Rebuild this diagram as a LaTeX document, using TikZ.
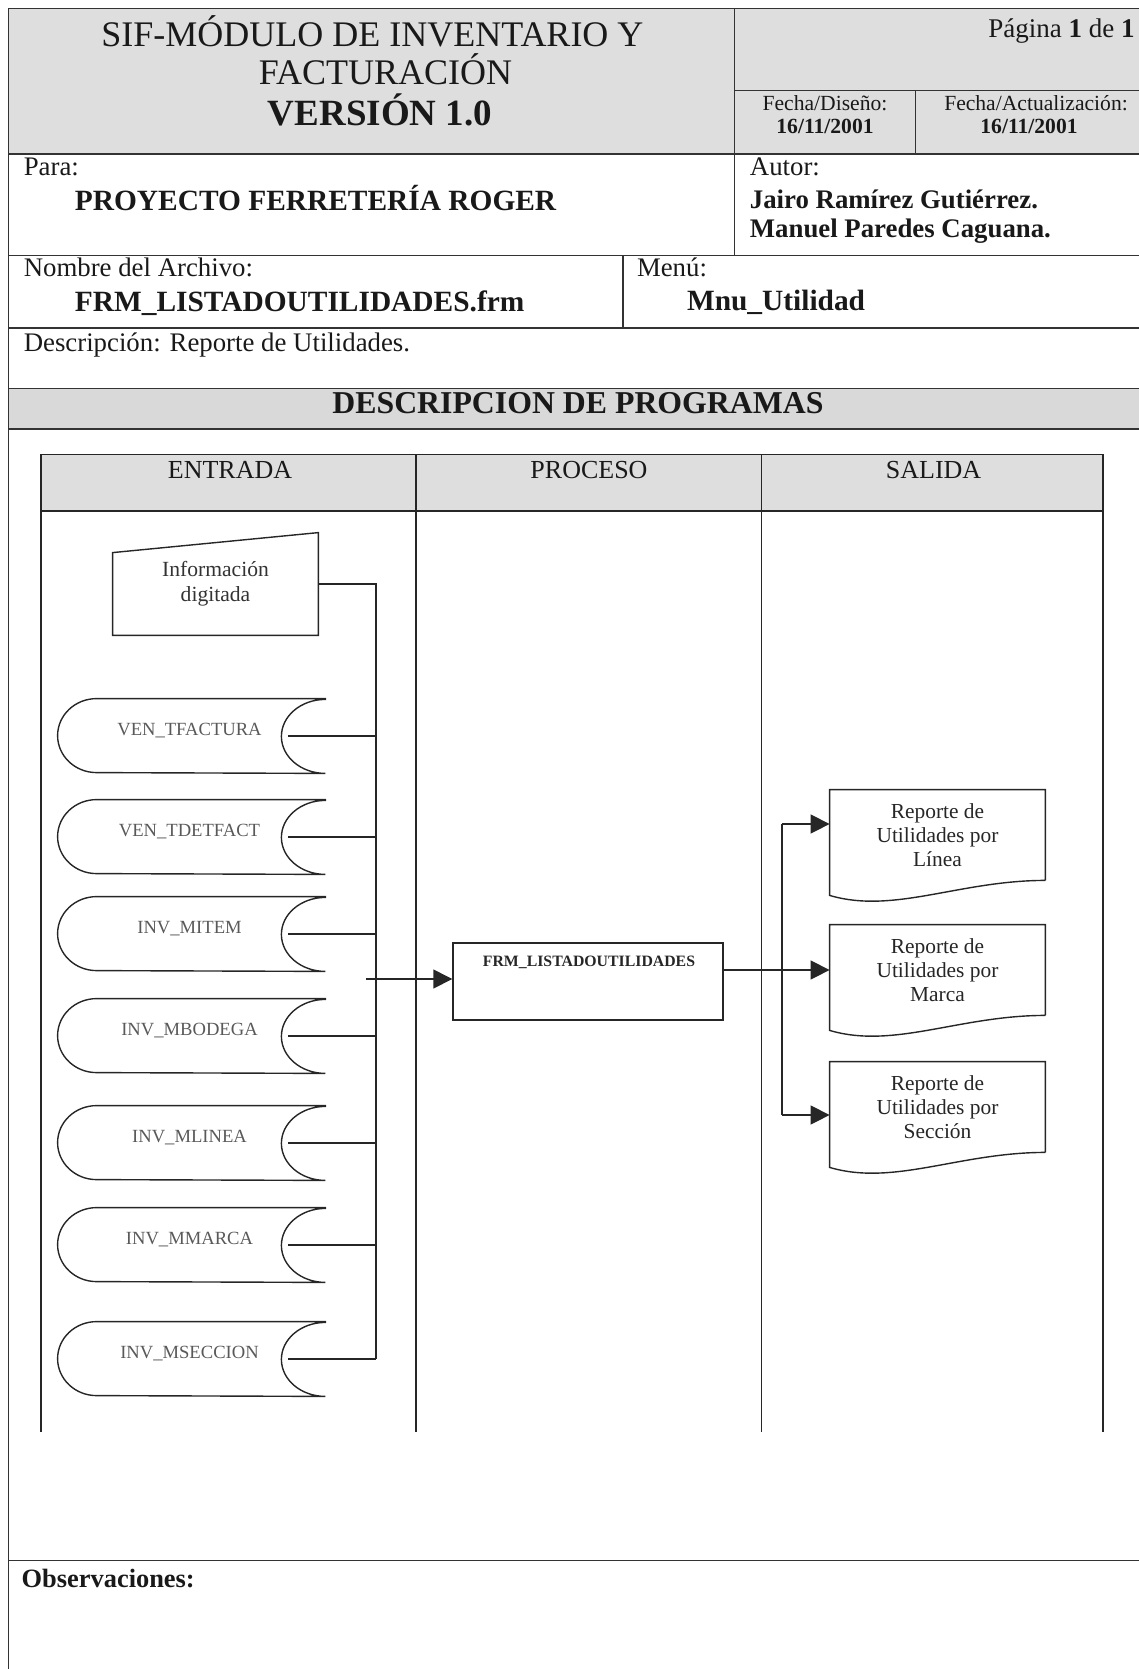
\documentclass[tikz,border=0pt]{standalone}
\usepackage{fontspec}
\setmainfont{Liberation Serif}
\usetikzlibrary{calc,arrows.meta}
\newcommand\fsz[2]{\fontsize{#1}{#2}\selectfont}
\begin{document}
\begin{tikzpicture}[x=0.5pt,y=-0.5pt,
  formline/.style={line width=0.9pt, black!80},
  dline/.style={line width=0.7pt, black!85},
  arr/.style={dline, -{Triangle[length=9.5pt,width=9.5pt]}},
  lbl/.style={anchor=base west, inner sep=0, font=\fsz{13.4pt}{16pt}, text=black!90},
  val/.style={anchor=base west, inner sep=0, font=\bfseries\fsz{14.7pt}{17pt}, text=black!90},
  sdbox/.style={minimum width=133.5pt, minimum height=37pt, inner sep=0},
  sdtext/.style={anchor=base, inner sep=0, font=\fsz{9.3pt}{11pt}, text=black!65},
  docbox/.style={minimum width=107.5pt, minimum height=45pt, inner sep=0, align=center, font=\fsz{10.7pt}{12pt}, text=black!85},
  hdr/.style={anchor=base, inner sep=0, font=\fsz{13pt}{15pt}, text=black!90},
]
\useasboundingbox (0,0) rectangle (1139,1669);
% gray bands
\fill[black!13] (8.5,8.5) rectangle (1139,154.4);
\fill[black!15] (8.5,388.5) rectangle (1139,429);
\fill[black!13] (41,454.5) rectangle (1103,511);
% form lines
\draw[formline] (8.5,1669) -- (8.5,8.5) -- (1139,8.5);
\foreach \yy in {154.4,255.5,328,388.5,429,1560.5} \draw[formline] (8.5,\yy) -- (1139,\yy);
\draw[formline] (734.5,8.5) -- (734.5,255.5);
\draw[formline] (734.5,90.5) -- (1139,90.5);
\draw[formline] (915.5,90.5) -- (915.5,154.4);
\draw[formline] (622.7,255.5) -- (622.7,328);
% header texts
\node[anchor=base, inner sep=0, font=\fsz{18pt}{20pt}, text=black!90] (t1) at (372.5,47) {SIF-MÓDULO DE INVENTARIO Y};
\node[anchor=base, inner sep=0, font=\fsz{18pt}{20pt}, text=black!90] (t2) at (385.5,84.4) {FACTURACIÓN};
\node[anchor=base, inner sep=0, font=\bfseries\fsz{18.5pt}{20pt}, text=black!90] (t3) at (380,126) {VERSIÓN 1.0};
\node[anchor=base east, inner sep=0, font=\fsz{13.5pt}{16pt}, text=black!90] (pag) at (1135,38) {Página \textbf{1} de \textbf{1}};
\node[anchor=base, inner sep=0, font=\fsz{10.8pt}{12pt}, text=black!90] (fd) at (825,111) {Fecha/Diseño:};
\node[anchor=base, inner sep=0, font=\bfseries\fsz{10.8pt}{12pt}, text=black!90] (fdv) at (825,133.5) {16/11/2001};
\node[anchor=base, inner sep=0, font=\fsz{10.8pt}{12pt}, text=black!90] (fa) at (1036,111) {Fecha/Actualización:};
\node[anchor=base, inner sep=0, font=\bfseries\fsz{10.8pt}{12pt}, text=black!90] (fav) at (1029,133.5) {16/11/2001};
% rows
\node[lbl] (para) at (23.4,176) {Para:};
\node[val] (parav) at (74.5,211) {PROYECTO FERRETERÍA ROGER};
\node[lbl] (autor) at (749.5,176) {Autor:};
\node[lbl, font=\bfseries\fsz{13.4pt}{16pt}] (aut1) at (749.5,209) {Jairo Ramírez Gutiérrez.};
\node[lbl, font=\bfseries\fsz{13.4pt}{16pt}] (aut2) at (749.5,238) {Manuel Paredes Caguana.};
\node[lbl] (nom) at (23.4,277) {Nombre del Archivo:};
\node[val] (nomv) at (74.5,311) {FRM\_LISTADOUTILIDADES.frm};
\node[lbl] (menu) at (636.6,277) {Menú:};
\node[val] (menuv) at (686.6,310) {Mnu\_Utilidad};
\node[lbl] (desc) at (23.4,351) {Descripción: Reporte de Utilidades.};
\node[anchor=base, inner sep=0, font=\bfseries\fsz{15.9pt}{18pt}, text=black!90] (dp) at (578,413) {DESCRIPCION DE PROGRAMAS};
\node[anchor=base west, inner sep=0, font=\bfseries\fsz{13.2pt}{16pt}, text=black!90] (obs) at (21.3,1587) {Observaciones:};
% lanes
\draw[dline] (41,454.5) rectangle (1103,511);
\draw[dline] (41,511) -- (41,1432);
\draw[dline] (416,454.5) -- (416,1432);
\draw[dline] (761.5,454.5) -- (761.5,1432);
\draw[dline] (1103,511) -- (1103,1432);
\node[hdr] (he) at (230,478) {ENTRADA};
\node[hdr] (hp) at (589,478) {PROCESO};
\node[hdr] (hs) at (933.6,478) {SALIDA};
% manual input
\node[minimum width=102.5pt, minimum height=51pt, inner sep=0, align=center, font=\fsz{10.8pt}{12.5pt}, text=black!80] (inp) at (215.5,584) {Información\\digitada};
\draw[dline] (inp.south west) -- ([yshift=-10pt]inp.north west) -- (inp.north east) -- (inp.south east) -- cycle;
% stored data
\coordinate (bus) at (376,0);
\foreach \n/\yy/\lab in {s1/699/VEN\_TFACTURA, s2/800/VEN\_TDETFACT, s3/897/INV\_MITEM, s4/999/INV\_MBODEGA, s5/1106/INV\_MLINEA, s6/1208/INV\_MMARCA, s7/1322/INV\_MSECCION}{
  \node[sdbox] (\n) at (191.5,{\yy+37}) {};
  \draw[dline] (\n.north east) -- ([xshift=19.5pt]\n.north west) arc[start angle=90,end angle=270,x radius=19.5pt,y radius=18.5pt] -- (\n.south east) arc[start angle=270,end angle=90,x radius=22pt,y radius=18.5pt] -- cycle;
  \node[sdtext] (l\n) at (189.5,{\yy+36}) {\lab};
  \draw[dline] ([xshift=-18.5pt]\n.east) -- (\n.east -| bus);
}
\draw[dline] (inp.east) -- (inp.east -| bus) -- (bus |- s7.east);
% process
\node[draw, dline, minimum width=135pt, minimum height=38.5pt, inner sep=0] (proc) at (588,981.5) {};
\node[anchor=base, inner sep=0, font=\bfseries\fsz{7.9pt}{9pt}, text=black!85] (proct) at (589,966) {FRM\_LISTADOUTILIDADES};
\coordinate (pin) at (366,979);
\draw[arr] (pin) -- (pin -| proc.west);
% documents
\foreach \n/\yy/\lab in {d1/790/L\'{\i}nea, d2/925/Marca, d3/1062/Sección}{
  \node[docbox] (\n) at (937.5,{\yy+45}) {Reporte de\\Utilidades por\\\lab};
  \draw[dline] (\n.south east) -- (\n.north east) -- (\n.north west) -- ([yshift=-7.5pt]\n.south west) .. controls ([xshift=32pt,yshift=-17pt]\n.south west) and ([xshift=-43pt]\n.south east) .. (\n.south east);
}
\coordinate (a1) at (782,824);
\coordinate (a3) at (782,1115);
\draw[dline] (a1) -- (a3);
\draw[arr] (a1) -- (a1 -| d1.west);
\draw[arr] (a3) -- (a3 -| d3.west);
\draw[arr] (proc.east |- d2.west) -- (d2.west);
\end{tikzpicture}
\end{document}
